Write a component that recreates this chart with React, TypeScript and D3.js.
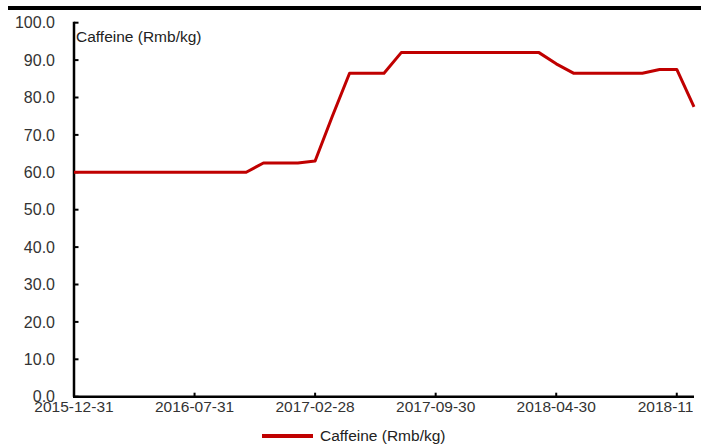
import * as d3 from "d3";

const dates = [
  "2015-12-31", "2016-01-31", "2016-02-29", "2016-03-31", "2016-04-30", "2016-05-31",
  "2016-06-30", "2016-07-31", "2016-08-31", "2016-09-30", "2016-10-31", "2016-11-30",
  "2016-12-31", "2017-01-31", "2017-02-28", "2017-03-31", "2017-04-30", "2017-05-31",
  "2017-06-30", "2017-07-31", "2017-08-31", "2017-09-30", "2017-10-31", "2017-11-30",
  "2017-12-31", "2018-01-31", "2018-02-28", "2018-03-31", "2018-04-30", "2018-05-31",
  "2018-06-30", "2018-07-31", "2018-08-31", "2018-09-30", "2018-10-31", "2018-11-30",
  "2018-12-31",
];

const caffeine = [
  60, 60, 60, 60, 60, 60, 60, 60, 60, 60, 60, 62.5,
  62.5, 62.5, 63, 75, 86.5, 86.5, 86.5, 92, 92, 92, 92, 92,
  92, 92, 92, 92, 89, 86.5, 86.5, 86.5, 86.5, 86.5, 87.5, 87.5,
  77.5,
];

const xLabels = ["2015-12-31", "2016-07-31", "2017-02-28", "2017-09-30", "2018-04-30", "2018-11-30"];
const yTicks = [0, 10, 20, 30, 40, 50, 60, 70, 80, 90, 100];
const seriesName = "Caffeine (Rmb/kg)";

const W = 710, H = 446;
const font = "'Liberation Sans', Arial, sans-serif";
const red = "#c00000";

export default function App() {
  const x = d3.scalePoint<string>().domain(dates).range([74, 694]);
  const y = d3.scaleLinear().domain([0, 100]).range([396.7, 22.7]);

  const line = d3.line<number>()
    .x((_, i) => x(dates[i]) as number)
    .y((d) => y(d));

  return (
    <div style={{ position: "absolute", left: 0, top: 0 }}>
      <svg width={W} height={H} style={{ display: "block", background: "#fff" }}>
        <defs>
          <clipPath id="xclip">
            <rect x={0} y={0} width={693} height={H} />
          </clipPath>
        </defs>

        {/* top rule */}
        <line x1={8} x2={701} y1={8} y2={8} stroke="#000" strokeWidth={4} />

        {/* y axis */}
        <line x1={74} x2={74} y1={y(100) - 1} y2={y(0)} stroke="#000" strokeWidth={2.5} />
        {yTicks.map((t) => (
          <g key={t}>
            <line x1={74} x2={78.5} y1={y(t)} y2={y(t)} stroke="#000" strokeWidth={2} />
            <text x={55} y={y(t)} dy="0.35em" textAnchor="end" fontFamily={font} fontSize={16} fill="#333">
              {t.toFixed(1)}
            </text>
          </g>
        ))}

        {/* x axis */}
        <line x1={73} x2={694} y1={y(0)} y2={y(0)} stroke="#000" strokeWidth={2.5} />
        <g clipPath="url(#xclip)">
          {xLabels.map((d) => (
            <g key={d}>
              <line x1={x(d)} x2={x(d)} y1={y(0)} y2={y(0) - 4} stroke="#000" strokeWidth={2} />
              <text x={x(d)} y={y(0) + 15} textAnchor="middle" fontFamily={font} fontSize={15.5} fill="#333">
                {d}
              </text>
            </g>
          ))}
        </g>

        {/* axis title */}
        <text x={76} y={42} fontFamily={font} fontSize={15.5} fill="#222">{seriesName}</text>

        {/* series */}
        <path d={line(caffeine) ?? ""} fill="none" stroke={red} strokeWidth={3} strokeLinejoin="round" />

        {/* legend */}
        <line x1={262} x2={313} y1={436} y2={436} stroke={red} strokeWidth={4} />
        <text x={320} y={436} dy="0.35em" fontFamily={font} fontSize={15.5} fill="#222">{seriesName}</text>
      </svg>
    </div>
  );
}
